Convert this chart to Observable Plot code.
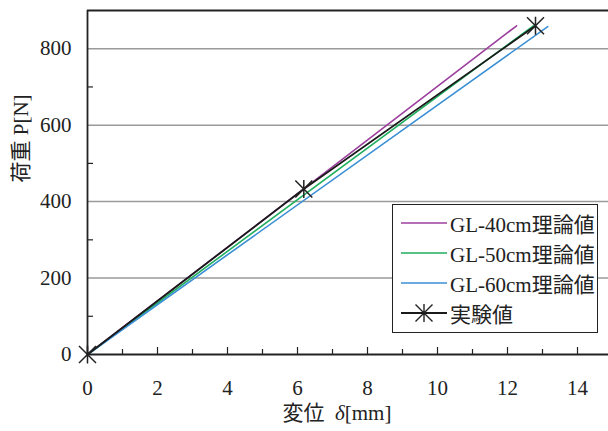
<!DOCTYPE html>
<html><head><meta charset="utf-8">
<script src="https://cdn.jsdelivr.net/npm/d3@7"></script>
<script src="https://cdn.jsdelivr.net/npm/@observablehq/plot@0.6"></script>
<style>
html,body{margin:0;padding:0;background:#fff;overflow:hidden;}
#wrap{position:relative;width:608px;height:431px;}
#legend{position:absolute;left:392px;top:204px;width:204px;height:124px;border:1.5px solid #222;background:#fff;box-sizing:content-box;padding-top:3px;
 font-family:"Liberation Serif","Noto Sans CJK JP",serif;font-size:21px;color:#222;}
.row{height:30px;display:flex;align-items:center;white-space:nowrap;}
.row svg{margin-left:8px;margin-right:3px;flex:none;}
</style></head>
<body><div id="wrap"></div>
<script>
const seriesNames = ["GL-40cm理論値","GL-50cm理論値","GL-60cm理論値","実験値"];
const seriesColors = ["#9c3f9e","#1fae5e","#3a8fd4","#1a1a1a"];
const gl40X = [0, 12.26]; const gl40Y = [0, 860];
const gl50X = [0, 12.74]; const gl50Y = [0, 860];
const gl60X = [0, 13.15]; const gl60Y = [0, 858];
const expX = [0, 6.18, 12.8]; const expY = [0, 433, 860];
const xTicks = [0,2,4,6,8,10,12,14];
const xMinor = [1,3,5,7,9,11,13];
const yTicks = [0,200,400,600,800];
const yMinor = [100,300,500,700];
const xLabel = "変位\u2002δ[mm]";
const yLabel = "荷重 P[N]";

const toPts = (xs, ys, name) => xs.map((x,i)=>({x, y: ys[i], name}));
const lines = [toPts(gl40X,gl40Y,seriesNames[0]), toPts(gl50X,gl50Y,seriesNames[1]), toPts(gl60X,gl60Y,seriesNames[2])];
const expPts = toPts(expX, expY, seriesNames[3]);

const ast = {draw(ctx){ const d=8.5; ctx.moveTo(0,-9); ctx.lineTo(0,9); ctx.moveTo(-d,-d); ctx.lineTo(d,d); ctx.moveTo(-d,d); ctx.lineTo(d,-d);} };

const H = 431, mT = 10, mB = 77, mL = 87, W = 608;
const fh = H - mT - mB, fw = W - mL;
const font = '"Liberation Serif","Noto Sans CJK JP",serif';
const fs = 21;

const plot = Plot.plot({
  width: W, height: H, marginLeft: mL, marginRight: 0, marginTop: mT, marginBottom: mB,
  style: {fontFamily: font, fontSize: fs + "px", color: "#222", background: "#fff"},
  x: {domain: [0, 15], range: [mL, 612]},
  y: {domain: [0, 900]},
  marks: [
    Plot.gridY(yTicks.slice(1), {stroke: "#9a9a9a", strokeOpacity: 1, strokeWidth: 1.5}),
    Plot.tickY(yMinor, {y: d=>d, stroke: "#222", strokeWidth: 1.2, insetRight: fw - 6}),
    Plot.tickX(xTicks, {x: d=>d, stroke: "#222", strokeWidth: 1.2, insetTop: fh - 7}),
    Plot.tickX(xMinor, {x: d=>d, stroke: "#222", strokeWidth: 1.2, insetTop: fh - 5}),
    Plot.axisX(xTicks, {tickSize: 0, tickPadding: 26, fontSize: fs, fill: "#222", label: null}),
    Plot.axisY(yTicks, {tickSize: 0, tickPadding: 16, fontSize: fs, fill: "#222", label: null}),
    ...lines.map((pts,i)=>Plot.line(pts, {x:"x", y:"y", stroke: seriesColors[i], strokeWidth: 1.6})),
    Plot.line(expPts, {x:"x", y:"y", stroke: seriesColors[3], strokeWidth: 1.8}),
    Plot.dot(expPts, {x:"x", y:"y", symbol: ast, stroke: "#222", fill: "none", strokeWidth: 1.5}),
    Plot.ruleY([900], {stroke: "#222", strokeWidth: 1.8}),
    Plot.ruleY([0], {stroke: "#222", strokeWidth: 1.8}),
    Plot.ruleX([0], {stroke: "#222", strokeWidth: 1.8}),
    Plot.text([xLabel], {frameAnchor: "bottom", dy: 59, dx: -11, fontSize: fs, fill: "#222", lineAnchor: "middle"}),
    Plot.text([yLabel], {frameAnchor: "left", dx: -66, rotate: -90, fontSize: fs, fill: "#222", lineAnchor: "middle"})
  ]
});
const wrap = document.getElementById("wrap");
wrap.appendChild(plot);

// italic delta in the x label
plot.querySelectorAll("text").forEach(t => {
  if (t.textContent === xLabel) {
    const [a, b] = xLabel.split("δ");
    t.textContent = "";
    const ns = "http://www.w3.org/2000/svg";
    const s1 = document.createElementNS(ns, "tspan"); s1.textContent = a;
    const s2 = document.createElementNS(ns, "tspan"); s2.textContent = "δ"; s2.setAttribute("font-style", "italic");
    const s3 = document.createElementNS(ns, "tspan"); s3.textContent = b;
    t.append(s1, s2, s3);
  }
});

const leg = document.createElement("div"); leg.id = "legend";
seriesNames.forEach((n,i)=>{
  const row = document.createElement("div"); row.className="row";
  const star = i===3 ? `<path d="M23,-9V9M14.5,-8.5L31.5,8.5M14.5,8.5L31.5,-8.5" transform="translate(0,15)" stroke="#222" stroke-width="1.4" fill="none"/>` : "";
  row.innerHTML = `<svg width="46" height="30"><line x1="0" x2="46" y1="15" y2="15" stroke="${seriesColors[i]}" stroke-width="${i===3?1.8:1.6}"/>${star}</svg><span>${n}</span>`;
  leg.appendChild(row);
});
wrap.appendChild(leg);
</script></body></html>
